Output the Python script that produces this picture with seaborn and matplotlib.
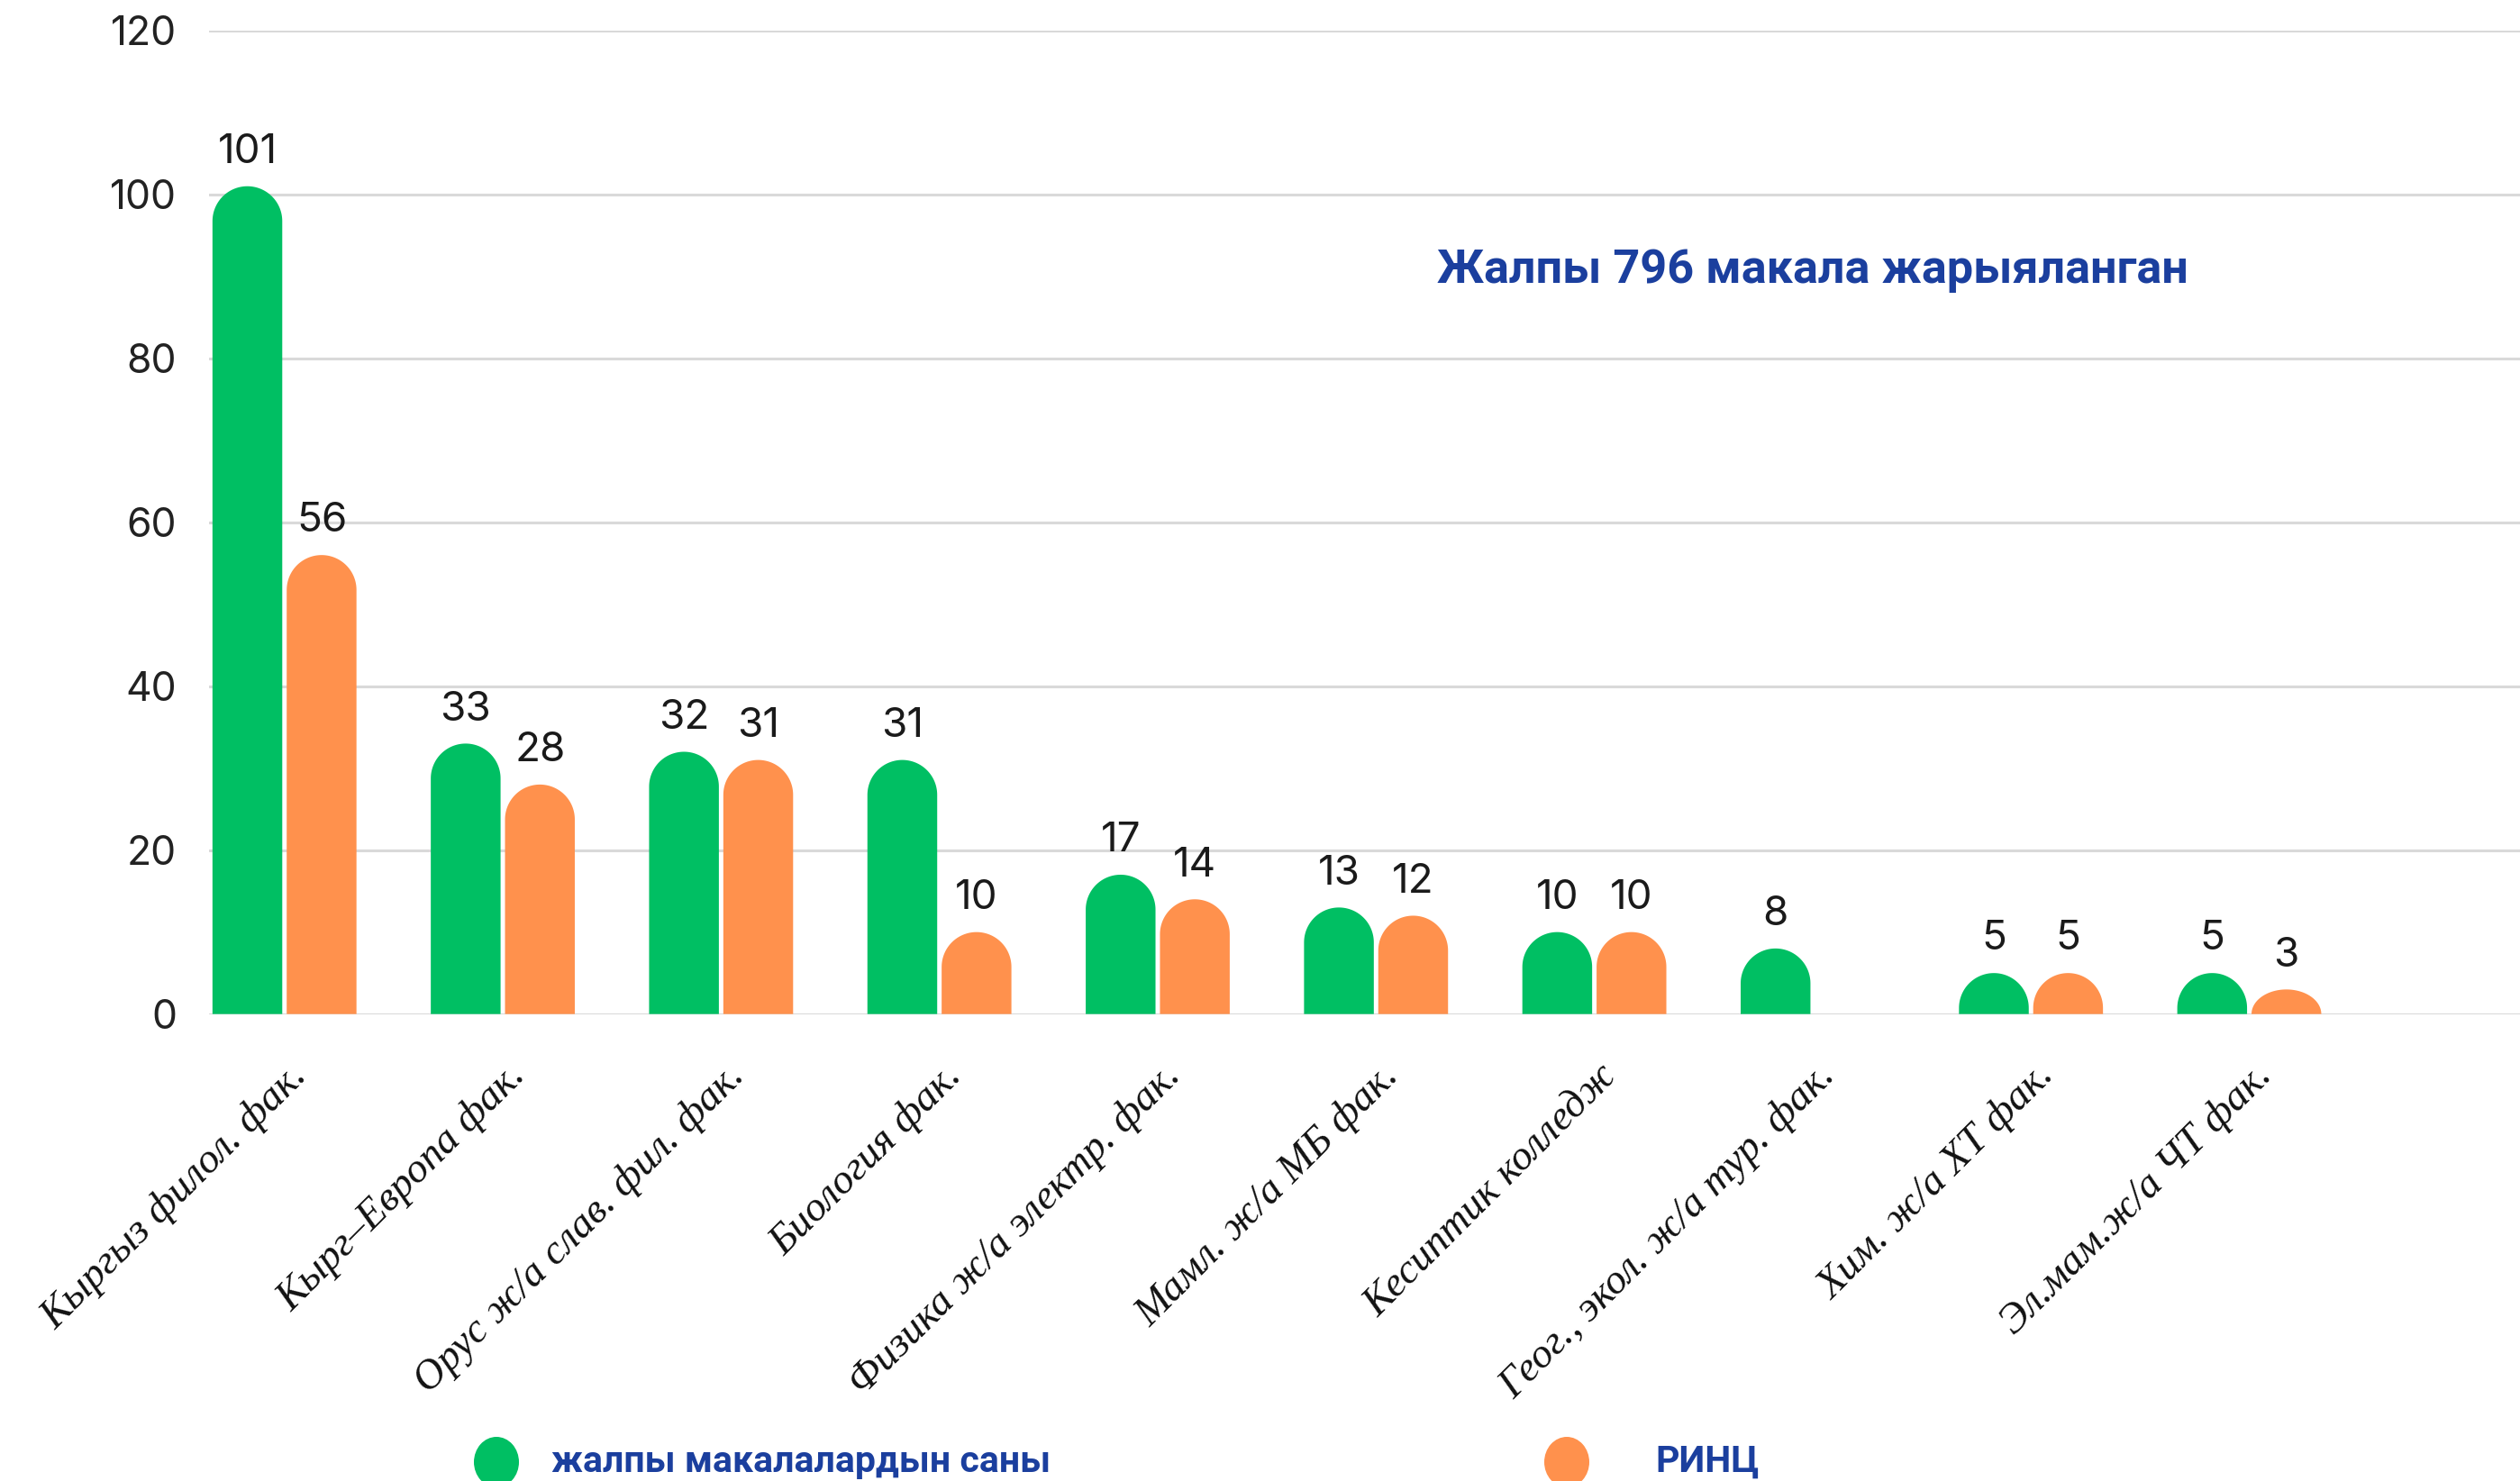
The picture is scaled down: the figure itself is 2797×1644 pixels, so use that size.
import numpy as np
import pandas as pd
import matplotlib
matplotlib.use("Agg")
import matplotlib.pyplot as plt
import seaborn as sns
from matplotlib.patches import Polygon, Ellipse
from matplotlib.transforms import ScaledTranslation
from matplotlib import font_manager

# ---------------- data ----------------
categories = [
    "Кыргыз филол. фак.",
    "Кырг–Европа фак.",
    "Орус ж/а слав. фил. фак.",
    "Биология фак.",
    "Физика ж/а электр. фак.",
    "Мамл. ж/а МБ фак.",
    "Кесиптик колледж",
    "Геог., экол. ж/а тур. фак.",
    "Хим. ж/а ХТ фак.",
    "Эл.мам.ж/а ЧТ фак.",
]
total_articles = [101, 33, 32, 31, 17, 13, 10, 8, 5, 5]
rints_articles = [56, 28, 31, 10, 14, 12, 10, 0, 5, 3]
series_names = ["жалпы макалалардын саны", "РИНЦ"]
y_ticks = [0, 20, 40, 60, 80, 100, 120]
title_text = "Жалпы 796 макала жарыяланган"

GREEN = "#00BF63"
ORANGE = "#FF914D"
BLUE = "#1B3F9E"
GRID = "#D9D9D9"

sns.set_theme(style="white")
available = {f.name for f in font_manager.fontManager.ttflist}


def pick(*names):
    return [n for n in names if n in available] + ["DejaVu Sans"]


num_font = pick("Inter", "Lato", "Roboto")
label_font = pick("Liberation Serif")
bold_font = pick("Liberation Sans Narrow", "Roboto", "Open Sans")
narrow = "Liberation Sans Narrow" in available
plt.rcParams["font.family"] = num_font

df = pd.DataFrame({
    "category": categories * 2,
    "series": [series_names[0]] * len(categories) + [series_names[1]] * len(categories),
    "value": total_articles + rints_articles,
})

W, H, DPI = 2797, 1644, 100
fig = plt.figure(figsize=(W / DPI, H / DPI), dpi=DPI)
fig.patch.set_facecolor("white")
ax = fig.add_axes([0.083, 0.3153, 0.917, 0.6641])

sns.barplot(data=df, x="category", y="value", hue="series", order=categories,
            hue_order=series_names, palette=[GREEN, ORANGE], width=0.68, gap=0.06,
            saturation=1, errorbar=None, legend=False, ax=ax)

ax.set_xlim(-0.345, 10.24)
ax.set_ylim(0, 120)
ax.set_yticks(y_ticks)
ax.set_xlabel("")
ax.set_ylabel("")
for s in ax.spines.values():
    s.set_visible(False)
ax.yaxis.grid(True, color=GRID, linewidth=2.2)
ax.xaxis.grid(False)
ax.set_axisbelow(True)
ax.tick_params(axis="both", length=0)
ax.tick_params(axis="y", pad=26, labelsize=32, labelcolor="#222222")

# rounded-top bars
x0p, y0p = ax.transData.transform((0, 0))
x1p, y1p = ax.transData.transform((1, 1))
pxx, pxy = x1p - x0p, y1p - y0p
theta = np.linspace(0, np.pi, 80)
for p in list(ax.patches):
    x, w, h = p.get_x(), p.get_width(), p.get_height()
    color = p.get_facecolor()
    p.set_visible(False)
    if not np.isfinite(h) or h <= 0:
        continue
    r = (w * pxx / 2) / pxy
    rr = min(r, h)
    cx = x + w / 2
    arc = np.column_stack([cx + (w / 2) * np.cos(theta), (h - rr) + rr * np.sin(theta)])
    pts = np.vstack([[x, 0], [x + w, 0], arc])
    ax.add_patch(Polygon(pts, closed=True, facecolor=color, edgecolor="none", zorder=2))
    ax.annotate(f"{h:g}", (cx, h), xytext=(0, 12), textcoords="offset points",
                ha="center", va="bottom", fontsize=33, color="#1a1a1a")

ax.set_xticks(range(len(categories)))
ax.set_xticklabels(categories, rotation=45, ha="right", rotation_mode="anchor",
                   fontfamily=label_font, fontstyle="italic", fontsize=33.5, color="#111111")
ax.tick_params(axis="x", pad=34)
for lbl in ax.get_xticklabels():
    lbl.set_transform(lbl.get_transform() + ScaledTranslation(0.04, 0, fig.dpi_scale_trans))

title_size = 44 if narrow else 37.5
legend_size = 36 if narrow else 29.5
fig.text(0.7194, 0.8175, title_text, ha="center", va="center", fontsize=title_size,
         fontweight="bold", color=BLUE, family=bold_font)

# legend drawn at bottom
leg_y = 1 - 1623 / H
for cx_px, tx_px, col, name in [(551, 612, GREEN, series_names[0]),
                                (1739, 1837, ORANGE, series_names[1])]:
    fig.add_artist(Ellipse((cx_px / W, leg_y), 50 / W, 56 / H, transform=fig.transFigure,
                           facecolor=col, edgecolor="none"))
    fig.text(tx_px / W, leg_y, name, ha="left", va="center", fontsize=legend_size,
             fontweight="bold", color=BLUE, family=bold_font)

fig.savefig("out.png", dpi=DPI, facecolor="white")
